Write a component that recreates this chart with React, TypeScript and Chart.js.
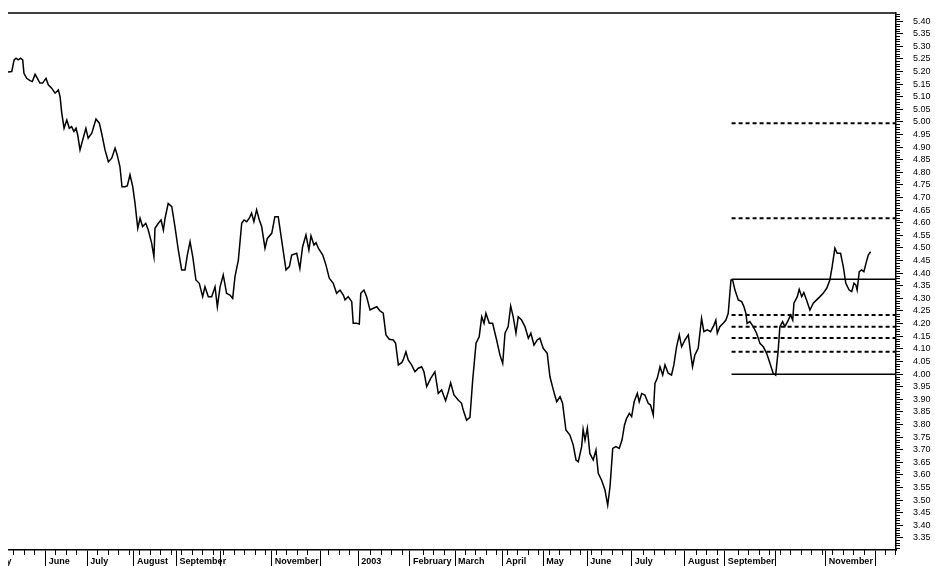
import React, { useEffect, useRef } from 'react';
import { Chart, registerables } from 'chart.js';

Chart.register(...registerables);

// Trading-day index (x) and yield (y)
const tradingDay = [
  0, 1.8, 2.9, 3.8, 4.9, 6.0, 7.0, 7.6, 8.9, 10.5, 11.6, 12.9, 14.0, 15.2, 16.5, 18.1, 19.2, 20.8, 22.4, 24.0,
  24.8, 25.6, 26.7, 28.0, 29.2, 30.3, 31.4, 32.4, 33.2, 34.3, 35.6, 37.1, 38.2, 39.9, 41.9, 43.5, 44.6, 46.2, 47.8, 49.4,
  51.0, 52.0, 53.3, 54.3, 55.7, 56.8, 58.1, 59.4, 60.5, 61.8, 62.9, 64.1, 65.6, 66.8, 68.4, 69.5, 70.0, 71.6, 72.9, 74.0,
  74.8, 76.3, 78.0, 79.5, 81.1, 82.7, 84.3, 85.4, 86.7, 88.0, 89.5, 91.1, 92.7, 93.8, 95.4, 97.0, 98.6, 99.7, 101.0, 102.5,
  104.1, 105.7, 107.0, 108.1, 109.7, 111.3, 112.4, 113.7, 114.9, 116.0, 117.1, 118.4, 119.7, 120.8, 122.4, 123.5, 125.6, 127.1, 128.7, 130.3,
  132.4, 134.0, 135.1, 137.5, 139.0, 140.3, 141.9, 143.3, 144.3, 145.7, 146.7, 147.8, 149.9, 151.4, 153.0, 154.9, 156.5, 158.1, 159.7, 160.5,
  162.0, 163.7, 164.4, 166.0, 167.3, 168.0, 169.5, 170.8, 172.4, 174.0, 175.6, 177.1, 178.7, 180.0, 181.6, 183.5, 184.6, 185.9, 187.5, 188.2,
  189.5, 190.6, 192.2, 193.8, 195.4, 197.0, 198.1, 199.4, 201.3, 203.3, 204.9, 206.5, 208.4, 209.7, 210.8, 212.4, 214.4, 216.0, 216.8, 218.4,
  220.0, 221.3, 222.9, 224.4, 225.6, 226.7, 227.6, 229.2, 230.8, 232.7, 234.3, 235.6, 236.7, 238.2, 239.4, 240.6, 241.9, 243.0, 244.6, 246.2,
  247.8, 249.0, 250.5, 252.0, 253.3, 254.9, 256.8, 258.1, 259.7, 261.3, 262.9, 264.1, 265.7, 267.6, 269.2, 270.5, 271.6, 273.2, 273.9, 274.8,
  275.9, 277.1, 278.7, 280.0, 281.1, 282.7, 284.3, 285.6, 286.7, 288.0, 289.5, 291.1, 292.4, 293.6, 294.6, 295.9, 297.0, 298.2, 299.7, 300.6,
  301.8, 303.3, 304.9, 306.0, 307.3, 308.1, 309.2, 310.5, 311.8, 312.9, 314.4, 316.0, 317.1, 318.4, 319.7, 320.8, 322.4, 324.0, 325.1, 326.0,
  327.1, 328.7, 330.3, 331.4, 333.0, 334.6, 336.2, 337.1, 337.8, 339.0, 340.6, 341.9, 343.0, 344.3, 345.1, 346.2, 347.8, 349.4, 350.5, 351.4,
  352.0, 353.3, 354.9, 356.5, 358.1, 359.7, 361.3, 362.9, 364.4, 365.6, 366.8, 367.6, 368.9, 370.0, 371.6, 372.7, 373.7, 374.3, 375.9, 376.8,
  378.0, 379.0, 380.3, 381.9, 383.5, 385.1, 386.7, 388.2, 389.9, 391.4, 392.5, 393.8, 394.9, 396.5, 397.8, 399.0, 400.6, 401.8, 402.9, 403.8,
  404.4, 405.4, 406.5, 407.6, 408.6, 409.7, 410.8,
];

const yieldValue = [
  5.198, 5.200, 5.246, 5.253, 5.246, 5.253, 5.246, 5.193, 5.173, 5.164, 5.160, 5.189, 5.173, 5.154, 5.154, 5.173, 5.147, 5.134, 5.114, 5.127,
  5.100, 5.035, 4.975, 5.008, 4.975, 4.981, 4.962, 4.975, 4.948, 4.889, 4.929, 4.975, 4.935, 4.955, 5.011, 4.995, 4.955, 4.889, 4.842, 4.856,
  4.896, 4.869, 4.823, 4.743, 4.743, 4.746, 4.790, 4.743, 4.677, 4.578, 4.618, 4.585, 4.598, 4.571, 4.519, 4.465, 4.578, 4.598, 4.611, 4.571,
  4.618, 4.677, 4.664, 4.585, 4.492, 4.413, 4.413, 4.472, 4.525, 4.465, 4.373, 4.360, 4.307, 4.346, 4.307, 4.307, 4.346, 4.267, 4.346, 4.393,
  4.320, 4.313, 4.300, 4.386, 4.452, 4.598, 4.611, 4.604, 4.618, 4.638, 4.604, 4.651, 4.611, 4.585, 4.499, 4.538, 4.558, 4.624, 4.624, 4.532,
  4.413, 4.426, 4.472, 4.479, 4.419, 4.505, 4.552, 4.492, 4.548, 4.512, 4.521, 4.499, 4.472, 4.433, 4.380, 4.360, 4.320, 4.333, 4.313, 4.294,
  4.307, 4.287, 4.201, 4.201, 4.198, 4.320, 4.333, 4.307, 4.254, 4.261, 4.267, 4.251, 4.241, 4.155, 4.138, 4.135, 4.122, 4.036, 4.045, 4.056,
  4.088, 4.056, 4.036, 4.009, 4.023, 4.029, 4.009, 3.950, 3.983, 4.009, 3.923, 3.937, 3.894, 3.930, 3.965, 3.917, 3.897, 3.884, 3.857, 3.817,
  3.828, 3.976, 4.122, 4.148, 4.227, 4.201, 4.241, 4.201, 4.201, 4.135, 4.075, 4.042, 4.162, 4.188, 4.270, 4.227, 4.162, 4.227, 4.214, 4.188,
  4.142, 4.162, 4.115, 4.135, 4.142, 4.102, 4.082, 3.989, 3.937, 3.890, 3.910, 3.884, 3.778, 3.758, 3.718, 3.659, 3.652, 3.712, 3.781, 3.738,
  3.785, 3.685, 3.659, 3.698, 3.606, 3.579, 3.540, 3.480, 3.553, 3.705, 3.712, 3.705, 3.738, 3.798, 3.824, 3.844, 3.831, 3.890, 3.923, 3.890,
  3.923, 3.917, 3.884, 3.877, 3.837, 3.963, 3.983, 4.029, 3.996, 4.036, 4.003, 3.996, 4.036, 4.108, 4.155, 4.108, 4.135, 4.155, 4.082, 4.029,
  4.075, 4.102, 4.221, 4.168, 4.175, 4.168, 4.194, 4.214, 4.162, 4.188, 4.201, 4.214, 4.241, 4.373, 4.373, 4.333, 4.294, 4.287, 4.267, 4.241,
  4.201, 4.208, 4.188, 4.162, 4.122, 4.108, 4.082, 4.042, 4.003, 3.996, 4.095, 4.188, 4.208, 4.188, 4.214, 4.234, 4.214, 4.281, 4.307, 4.336,
  4.307, 4.323, 4.294, 4.254, 4.281, 4.294, 4.307, 4.320, 4.340, 4.373, 4.426, 4.499, 4.479, 4.479, 4.426, 4.360, 4.333, 4.327, 4.360, 4.353,
  4.333, 4.406, 4.413, 4.406, 4.439, 4.472, 4.485,
];

// Month boundaries on the time axis (trading-day index) and their labels
const monthTickDay = [-8.1, 17.95, 37.76, 60.0, 80.3, 101.0, 125.6, 148.6, 166.8, 191.4, 212.9, 235.6, 254.9, 275.9, 297.0, 322.4, 341.4, 365.7, 389.5, 412.9];
const monthTickLabel = ['May', 'June', 'July', 'August', 'September', '', 'November', '', '2003', 'February', 'March', 'April', 'May', 'June', 'July', 'August', 'September', '', 'November', ''];

// Right-axis tick labels
const yTickValues = [
  3.35, 3.4, 3.45, 3.5, 3.55, 3.6, 3.65, 3.7, 3.75, 3.8, 3.85, 3.9, 3.95, 4.0, 4.05, 4.1, 4.15, 4.2, 4.25, 4.3, 4.35,
  4.4, 4.45, 4.5, 4.55, 4.6, 4.65, 4.7, 4.75, 4.8, 4.85, 4.9, 4.95, 5.0, 5.05, 5.1, 5.15, 5.2, 5.25, 5.3, 5.35, 5.4,
];

// Horizontal levels drawn from the September high
const fibLevels = [4.995, 4.618, 4.234, 4.188, 4.143, 4.088];
const rangeLevels = [4.376, 3.999];
const levelStartDay = 344.6;

const dayMin = 0;
const dayMax = 422.9;
const yMin = 3.302;
const yMax = 5.432;

const FONT = 'Liberation Sans, Arial, sans-serif';

const decorPlugin = {
  id: 'decor',
  afterDraw(chart: any) {
    const { ctx, chartArea, scales } = chart;
    const xs = scales.x;
    const ys = scales.y;
    ctx.save();
    ctx.strokeStyle = '#000';
    // top frame line
    ctx.lineWidth = 1.5;
    ctx.beginPath();
    ctx.moveTo(chartArea.left, chartArea.top);
    ctx.lineTo(chartArea.right, chartArea.top);
    ctx.stroke();
    // minor y ticks (0.01)
    ctx.lineWidth = 1;
    for (let k = 331; k <= 543; k++) {
      if (k % 5 === 0) continue;
      const y = Math.round(ys.getPixelForValue(k / 100)) + 0.5;
      ctx.beginPath();
      ctx.moveTo(chartArea.right, y);
      ctx.lineTo(chartArea.right + 4, y);
      ctx.stroke();
    }
    // weekly x ticks
    for (let d = 2.6; d < dayMax; d += 5) {
      if (monthTickDay.some((m) => Math.abs(m - d) < 1.5)) continue;
      const x = Math.round(xs.getPixelForValue(d)) + 0.5;
      ctx.beginPath();
      ctx.moveTo(x, chartArea.bottom);
      ctx.lineTo(x, chartArea.bottom + 5);
      ctx.stroke();
    }
    ctx.restore();
  },
};

export default function App() {
  const canvasRef = useRef<HTMLCanvasElement | null>(null);

  useEffect(() => {
    const canvas = canvasRef.current;
    if (!canvas) return;

    const lineData = tradingDay.map((d, i) => ({ x: d, y: yieldValue[i] }));
    const levelSet = (v: number, dashed: boolean) => ({
      data: [
        { x: levelStartDay, y: v },
        { x: dayMax, y: v },
      ],
      borderColor: '#000',
      borderWidth: dashed ? 2 : 1.5,
      borderDash: dashed ? [4, 3] : [],
      pointRadius: 0,
      fill: false,
      tension: 0,
    });

    const chart = new Chart(canvas, {
      type: 'line',
      data: {
        datasets: [
          {
            data: lineData,
            borderColor: '#000',
            borderWidth: 1.5,
            pointRadius: 0,
            fill: false,
            tension: 0,
          },
          ...fibLevels.map((v) => levelSet(v, true)),
          ...rangeLevels.map((v) => levelSet(v, false)),
        ],
      },
      options: {
        animation: false,
        responsive: false,
        maintainAspectRatio: false,
        events: [],
        layout: { padding: { top: 13, left: 0, right: 0, bottom: 0 } },
        plugins: { legend: { display: false }, tooltip: { enabled: false }, title: { display: false } },
        scales: {
          x: {
            type: 'linear',
            position: 'bottom',
            min: dayMin,
            max: dayMax,
            afterBuildTicks: (s: any) => {
              s.ticks = monthTickDay.map((v) => ({ value: v }));
            },
            afterFit: (s: any) => {
              s.height = 16;
              s.paddingLeft = 0;
              s.paddingRight = 0;
              s.paddingTop = 0;
              s.paddingBottom = 0;
            },
            ticks: {
              autoSkip: false,
              maxRotation: 0,
              minRotation: 0,
              align: 'start',
              labelOffset: 3,
              padding: -10,
              color: '#000',
              font: { family: FONT, size: 9, weight: 'bold' },
              callback: (_v: any, i: number) => monthTickLabel[i],
            },
            grid: { display: true, drawOnChartArea: false, drawTicks: true, tickLength: 16, color: '#000', lineWidth: 1 },
            border: { display: true, color: '#000', width: 1.5 },
          },
          y: {
            type: 'linear',
            position: 'right',
            min: yMin,
            max: yMax,
            afterBuildTicks: (s: any) => {
              s.ticks = yTickValues.map((v) => ({ value: v }));
            },
            afterFit: (s: any) => {
              s.width = 39;
              s.paddingLeft = 0;
              s.paddingRight = 0;
              s.paddingTop = 0;
              s.paddingBottom = 0;
            },
            ticks: {
              autoSkip: false,
              padding: 10,
              color: '#000',
              font: { family: FONT, size: 9 },
              callback: (v: any) => Number(v).toFixed(2),
            },
            grid: { display: true, drawOnChartArea: false, drawTicks: true, tickLength: 7, color: '#000', lineWidth: 1 },
            border: { display: true, color: '#000', width: 1.5 },
          },
        },
      } as any,
      plugins: [decorPlugin],
    });

    return () => chart.destroy();
  }, []);

  return (
    <div style={{ position: 'fixed', left: 8, top: 0, width: 927, height: 566, background: '#fff' }}>
      <canvas ref={canvasRef} width={927} height={566} style={{ display: 'block', width: 927, height: 566 }} />
    </div>
  );
}
